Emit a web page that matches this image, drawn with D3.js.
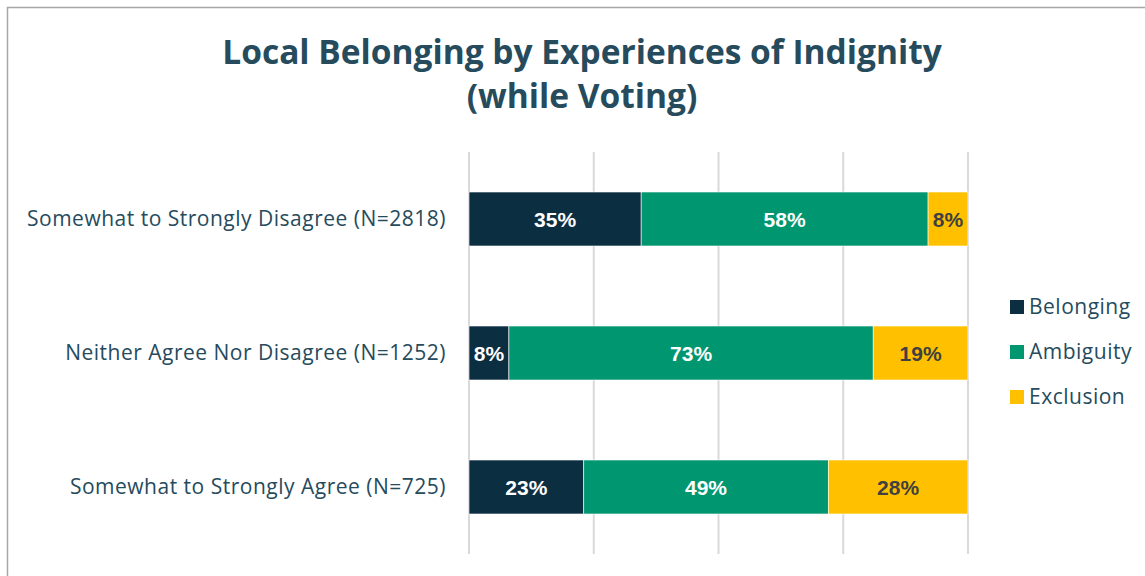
<!DOCTYPE html>
<html>
<head>
<meta charset="utf-8">
<script src="https://cdn.jsdelivr.net/npm/d3@7"></script>
<style>
  body { margin: 0; background: #fff; }
  svg { display: block; }
</style>
</head>
<body>
<div id="chart"></div>
<script>
const width = 1145;
const height = 576;

// data
const categories = [
  "Somewhat to Strongly Disagree (N=2818)",
  "Neither Agree Nor Disagree (N=1252)",
  "Somewhat to Strongly Agree (N=725)"
];
const seriesNames = ["Belonging", "Ambiguity", "Exclusion"];
const belonging = [34.5, 8.0, 23.0];
const ambiguity = [57.5, 73.0, 49.0];
const exclusion = [8.0, 19.0, 28.0];
const xTicks = [0, 25, 50, 75, 100];

const colors = ["#0c2e41", "#009670", "#ffc000"];
const labelColors = ["#ffffff", "#ffffff", "#404040"];
const textColor = "#264b5d";

const rows = categories.map((c, i) => ({
  category: c,
  Belonging: belonging[i],
  Ambiguity: ambiguity[i],
  Exclusion: exclusion[i]
}));

const svg = d3.select("#chart")
              .append("svg")
              .attr("width", width)
              .attr("height", height);

// chart border
svg.append("rect")
   .attr("x", 7.5)
   .attr("y", 7.5)
   .attr("width", width + 10)
   .attr("height", height + 10)
   .attr("fill", "none")
   .attr("stroke", "#a6a6a6")
   .attr("stroke-width", 1.5);

// title
const title = svg.append("text")
                 .attr("text-anchor", "middle")
                 .attr("fill", textColor)
                 .style("font-family", "'Open Sans', sans-serif")
                 .style("font-weight", 700)
                 .style("font-size", "33.5px");
title.append("tspan").attr("x", 582).attr("y", 64).text("Local Belonging by Experiences of Indignity");
title.append("tspan").attr("x", 582).attr("y", 108).text("(while Voting)");

const x = d3.scaleLinear()
            .domain([0, 100])
            .range([469, 968]);

const y = d3.scaleBand()
            .domain(categories)
            .range([152, 554])
            .paddingInner(0.597)
            .paddingOuter(0.2985);

// gridlines
svg.append("g")
   .selectAll("line")
   .data(xTicks)
   .enter()
   .append("line")
   .attr("x1", d => x(d))
   .attr("x2", d => x(d))
   .attr("y1", 152)
   .attr("y2", 554)
   .attr("stroke", "#d9d9d9")
   .attr("stroke-width", 2);

const stack = d3.stack().keys(seriesNames);
const stacked = stack(rows);

const layer = svg.append("g")
                 .selectAll("g")
                 .data(stacked)
                 .enter()
                 .append("g")
                 .attr("fill", (d, i) => colors[i]);

layer.selectAll("rect")
     .data(d => d)
     .enter()
     .append("rect")
     .attr("x", d => x(d[0]))
     .attr("y", d => y(d.data.category))
     .attr("width", d => x(d[1]) - x(d[0]))
     .attr("height", y.bandwidth())
     .attr("stroke", "#ffffff")
     .attr("stroke-width", 0.6);

// segment labels
stacked.forEach((s, si) => {
  svg.append("g")
     .selectAll("text")
     .data(s)
     .enter()
     .append("text")
     .attr("x", d => (x(d[0]) + x(d[1])) / 2)
     .attr("y", d => y(d.data.category) + y.bandwidth() / 2)
     .attr("dy", "0.36em")
     .attr("text-anchor", "middle")
     .attr("fill", labelColors[si])
     .style("font-family", "'Liberation Sans', Arial, sans-serif")
     .style("font-weight", 700)
     .style("font-size", "21px")
     .text(d => Math.round(d[1] - d[0]) + "%");
});

// category labels
svg.append("g")
   .selectAll("text")
   .data(categories)
   .enter()
   .append("text")
   .attr("x", 446)
   .attr("y", d => y(d) + y.bandwidth() / 2)
   .attr("dy", "0.35em")
   .attr("text-anchor", "end")
   .attr("fill", textColor)
   .style("font-family", "'Open Sans', sans-serif")
   .style("font-size", "21px")
   .style("letter-spacing", "0.5px")
   .text(d => d);

// legend
const legend = svg.append("g")
                  .selectAll("g")
                  .data(seriesNames)
                  .enter()
                  .append("g")
                  .attr("transform", (d, i) => `translate(1010, ${307 + 45 * i})`);

legend.append("rect")
      .attr("x", 0)
      .attr("y", -7)
      .attr("width", 14)
      .attr("height", 14)
      .attr("fill", (d, i) => colors[i]);

legend.append("text")
      .attr("x", 19)
      .attr("dy", "0.35em")
      .attr("fill", textColor)
      .style("font-family", "'Open Sans', sans-serif")
      .style("font-size", "21px")
      .style("letter-spacing", "0.5px")
      .text(d => d);
</script>
</body>
</html>
